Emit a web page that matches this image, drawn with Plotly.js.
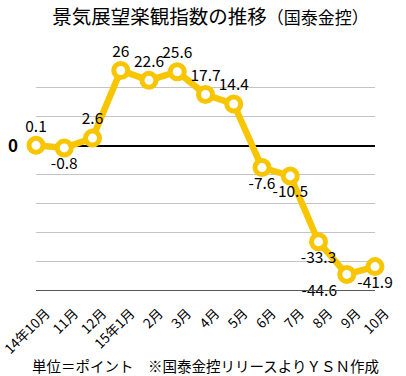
<!DOCTYPE html>
<html>
<head>
<meta charset="utf-8">
<script src="https://cdn.plot.ly/plotly-3.0.1.min.js"></script>
<style>html,body{margin:0;padding:0;background:#fff;}#chart{width:406px;height:376px;}</style>
</head>
<body>
<div id="chart"></div>
<script>
var categories = ["14年10月", "11月", "12月", "15年1月", "2月", "3月", "4月", "5月", "6月", "7月", "8月", "9月", "10月"];
var values = [0.1, -0.8, 2.6, 26, 22.6, 25.6, 17.7, 14.4, -7.6, -10.5, -33.3, -44.6, -41.9];
var labelPositions = ["top center", "bottom center", "top center", "top center", "top center", "top center", "top center", "top center", "bottom center", "bottom center", "bottom center", "bottom left", "bottom center"];
var yTickVals = [-50, -40, -30, -20, -10, 0, 10, 20, 30];
var yTickText = ["", "", "", "", "", "<b>0</b>", "", "", ""];
var titleMain = "景気展望楽観指数の推移";
var titleSub = "（国泰金控）";
var footnote = "単位＝ポイント　※国泰金控リリースよりＹＳＮ作成";

var font = "Noto Sans CJK JP, sans-serif";
var yellow = "#F8C600";
var idx = categories.map(function(_, i){ return i; });

var W = 406, ML = 36, MR = 21;
var plotW = W - ML - MR;          // 349
var shift = 10;                   // label axis offset to the right, px
var dataDomain = [0, (plotW - shift) / plotW];
var labelDomain = [shift / plotW, 1];

var trace = {
  x: idx,
  y: values,
  type: "scatter",
  mode: "lines+markers+text",
  line: {color: yellow, width: 6.5},
  marker: {size: 14, color: "#ffffff", line: {color: yellow, width: 5}},
  text: values.map(String),
  textposition: labelPositions,
  textfont: {family: font, size: 15.5, color: "#000"},
  cliponaxis: false,
  hoverinfo: "none"
};

// invisible helper trace so the category label axis is drawn
var labelTrace = {
  x: idx, y: values, xaxis: "x2", yaxis: "y2",
  type: "scatter", mode: "markers",
  marker: {size: 1, color: "rgba(0,0,0,0)"},
  hoverinfo: "none", showlegend: false
};

var layout = {
  width: W, height: 376,
  margin: {l: ML, r: MR, t: 59, b: 86},
  paper_bgcolor: "#fff", plot_bgcolor: "rgba(0,0,0,0)",
  showlegend: false,
  title: {
    text: titleMain + "<span style='font-size:17px'>" + titleSub + "</span>",
    font: {family: font, size: 19.5, color: "#000"},
    x: 0.5, xanchor: "center", xref: "paper", y: 0.955, yanchor: "middle"
  },
  xaxis: {
    domain: dataDomain,
    range: [0, 12],
    showticklabels: false,
    showgrid: false,
    zeroline: false,
    showline: true, linecolor: "#555", linewidth: 1,
    ticks: "", fixedrange: true
  },
  xaxis2: {
    domain: labelDomain,
    anchor: "y2",
    range: [0, 12],
    tickvals: idx,
    ticktext: categories,
    tickangle: -45,
    ticklabeloverflow: "allow",
    ticklabelstandoff: 12,
    tickfont: {family: font, size: 13.5, color: "#000"},
    showgrid: false, zeroline: false, showline: false,
    ticks: "", fixedrange: true
  },
  yaxis: {
    range: [-50, 30],
    tickvals: yTickVals,
    ticktext: yTickText,
    tickfont: {family: font, size: 17, color: "#000"},
    ticklabelstandoff: 17,
    showgrid: true, gridcolor: "#c4c4c4", gridwidth: 1,
    zeroline: true, zerolinecolor: "#000", zerolinewidth: 2,
    showline: false, ticks: "", fixedrange: true
  },
  yaxis2: {
    anchor: "x2", overlaying: "y",
    range: [-50, 30],
    visible: false, showgrid: false, zeroline: false, fixedrange: true
  },
  annotations: [{
    text: footnote, xref: "paper", yref: "paper",
    x: 0.5 * (dataDomain[1]), xanchor: "center", y: -0.325, yanchor: "middle",
    showarrow: false,
    font: {family: font, size: 14.5, color: "#000"}
  }]
};

Plotly.newPlot("chart", [labelTrace, trace], layout, {displayModeBar: false, staticPlot: true});
</script>
</body>
</html>
